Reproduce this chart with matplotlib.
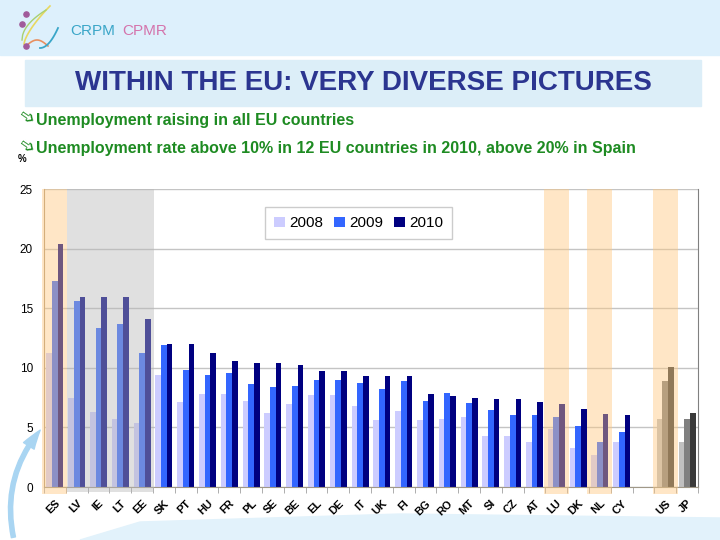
import matplotlib
matplotlib.use("Agg")

import matplotlib.pyplot as plt
import numpy as np
from matplotlib import font_manager
from matplotlib.patches import Rectangle, FancyArrowPatch, Polygon

# ---- data (unemployment rate, %) ----
countries = ["ES", "LV", "IE", "LT", "EE", "SK", "PT", "HU", "FR", "PL",
             "SE", "BE", "EL", "DE", "IT", "UK", "FI", "BG", "RO", "MT",
             "SI", "CZ", "AT", "LU", "DK", "NL", "CY", "", "US", "JP"]
years = ["2008", "2009", "2010"]
rate_2008 = [11.2, 7.5, 6.3, 5.7, 5.4, 9.4, 7.1, 7.8, 7.8, 7.2,
             6.2, 7.0, 7.7, 7.7, 6.8, 5.6, 6.4, 5.6, 5.7, 5.85,
             4.3, 4.3, 3.8, 4.9, 3.3, 2.7, 3.8, None, 5.7, 3.8]
rate_2009 = [17.3, 15.6, 13.3, 13.7, 11.2, 11.9, 9.8, 9.4, 9.55, 8.6,
             8.35, 8.5, 9.0, 9.0, 8.75, 8.2, 8.9, 7.2, 7.9, 7.05,
             6.5, 6.0, 6.0, 5.85, 5.15, 3.8, 4.65, None, 8.9, 5.7]
rate_2010 = [20.4, 15.9, 15.9, 15.9, 14.1, 12.0, 12.0, 11.2, 10.6, 10.4,
             10.4, 10.25, 9.7, 9.7, 9.3, 9.3, 9.3, 7.8, 7.6, 7.5,
             7.35, 7.35, 7.1, 6.95, 6.55, 6.15, 6.0, None, 10.1, 6.25]
non_eu = ["US", "JP"]
grey_block = ["LV", "IE", "LT", "EE"]
orange_marked = ["ES", "LU", "NL", "US"]

eu_colors = ["#CCCCFF", "#3366FF", "#000080"]
other_colors = ["#C0C0C0", "#808080", "#3A3A3A"]

names = {f.name for f in font_manager.fontManager.ttflist}
narrow = "Liberation Sans Narrow" if "Liberation Sans Narrow" in names else "Liberation Sans"

fig = plt.figure(figsize=(7.2, 5.4), dpi=100)

# ---- slide decoration, drawn in pixel coordinates ----
bg = fig.add_axes([0, 0, 1, 1])
bg.set_xlim(0, 720)
bg.set_ylim(540, 0)
bg.axis("off")

bg.add_patch(Rectangle((0, 0), 720, 55, color="#DDF0FC", zorder=0))
bg.add_patch(Rectangle((25, 60), 676, 46, color="#DCEEF8", zorder=0))
bg.add_patch(Polygon([[80, 540], [140, 522], [400, 514], [720, 518], [720, 540]],
                     closed=True, color="#E2F2FB", zorder=0))

# logo
t = np.linspace(0, 1, 40)
bg.plot(24 + 26 * t, 44 - 38 * t ** 0.7, color="#E8D860", lw=1.2)
bg.plot(22 + 24 * t, 40 - 30 * t ** 0.5, color="#A8D070", lw=1.0)
bg.plot(26 + 22 * t, 46 - 6 * np.sin(np.pi * t), color="#E89060", lw=1.2)
bg.plot(40 + 18 * t, 48 - 20 * t ** 2, color="#3AA6C8", lw=1.3)
bg.scatter([26, 22, 26], [14, 24, 46], s=14, color="#A05A9A", zorder=3)
bg.text(70, 31, "CRPM", color="#3AA6C8", fontsize=11, family=narrow, va="center")
bg.text(122, 31, "CPMR", color="#D474AC", fontsize=11, family=narrow, va="center")

bg.text(363, 83, "WITHIN THE EU: VERY DIVERSE PICTURES", color="#2B3590",
        fontsize=20, fontweight="bold", family=narrow, ha="center", va="center")

bullets = ["Unemployment raising in all EU countries",
           "Unemployment rate above 10% in 12 EU countries in 2010, above 20% in Spain"]
for y, txt in zip([120, 149], bullets):
    bg.text(27, y - 2, "\u27a9", color="#1E8B22", fontsize=14, family="DejaVu Sans",
            ha="center", va="center", rotation=-35)
    bg.text(36, y, txt, color="#1E8B22", fontsize=11.5, fontweight="bold",
            family="Liberation Sans", va="center")
bg.text(18, 159, "%", fontsize=7, fontweight="bold", family="Liberation Sans", va="center")

bg.add_patch(FancyArrowPatch((14, 540), (42, 428), connectionstyle="arc3,rad=-0.25",
                             arrowstyle="simple,head_width=9,head_length=14,tail_width=3",
                             color="#A9D5F2", zorder=1))

# ---- chart ----
ax = fig.add_axes([44 / 720, 1 - 487 / 540, 654 / 720, 298 / 540])
x = np.arange(len(countries))
w = 0.26
series = [rate_2008, rate_2009, rate_2010]
for i, (yr, vals) in enumerate(zip(years, series)):
    heights = [np.nan if v is None else v for v in vals]
    cols = [other_colors[i] if c in non_eu else eu_colors[i] for c in countries]
    ax.bar(x + (i - 1) * w, heights, width=w, color=cols, zorder=2)
    ax.bar([np.nan], [np.nan], color=eu_colors[i], label=yr)

for c in orange_marked:
    k = countries.index(c)
    ax.axvspan(k - 0.57, k + 0.57, ymin=-0.025, ymax=1, color="#FFC87F", alpha=0.44,
               lw=0, zorder=3, clip_on=False)
k0 = countries.index(grey_block[0])
k1 = countries.index(grey_block[-1])
ax.axvspan(k0 - 0.45, k1 + 0.55, ymin=-0.018, ymax=1, color="#B8B8B8", alpha=0.435,
           lw=0, zorder=3, clip_on=False)

ax.set_xlim(-0.5, len(countries) - 0.5)
ax.set_ylim(0, 25)
ax.set_yticks(range(0, 26, 5))
ax.yaxis.grid(True, color="#C4C4C4", lw=1)
ax.set_axisbelow(True)
ax.set_xticks(x)
ax.set_xticklabels(countries, rotation=45, ha="right", rotation_mode="anchor",
                   fontsize=8, fontweight="bold", family="Liberation Sans")
ax.set_xticks(np.arange(len(countries) + 1) - 0.5, minor=True)
ax.tick_params(axis="x", which="major", length=0, pad=8)
ax.tick_params(axis="x", which="minor", length=4, color="#A0A0A0")
ax.tick_params(axis="y", length=0, pad=8, labelsize=8.5)
for lab in ax.get_yticklabels():
    lab.set_family(narrow)

ax.spines["top"].set_visible(False)
ax.spines["left"].set_color("#B49A78")
ax.spines["bottom"].set_color("#A09888")
ax.spines["right"].set_color("#808080")

leg = ax.legend(loc="upper left", bbox_to_anchor=(0.326, 0.965), ncol=3,
                frameon=True, fancybox=False, edgecolor="#C0C0C0",
                prop={"family": narrow, "size": 11}, handlelength=0.7,
                handleheight=0.7, handletextpad=0.3, columnspacing=0.7,
                borderpad=0.6)
leg.get_frame().set_linewidth(1)

fig.savefig("out.png", dpi=100)
